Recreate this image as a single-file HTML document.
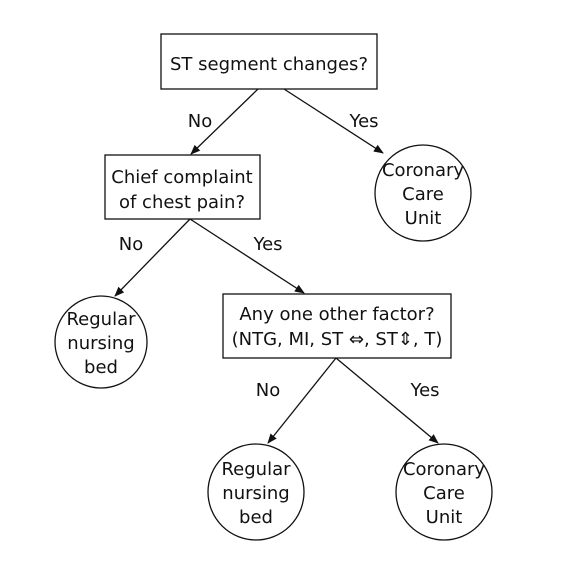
<!DOCTYPE html>
<html><head><style>
body{margin:0;background:#fff}
svg text{font-family:"DejaVu Sans","Liberation Sans",sans-serif;font-size:18px;fill:#111}
</style></head><body>
<svg width="575" height="559" viewBox="0 0 575 559" xmlns="http://www.w3.org/2000/svg">
<defs><marker id="a" markerWidth="10" markerHeight="10" refX="9" refY="5" orient="auto" markerUnits="userSpaceOnUse">
<path d="M0,1 L10,5 L0,9 Z" fill="#111"/></marker></defs>
<g fill="none" stroke="#111" stroke-width="1.3">
<rect x="161" y="34" width="216" height="55"/>
<rect x="105" y="155" width="155" height="64"/>
<rect x="223" y="294" width="228" height="64"/>
<circle cx="423" cy="193" r="48"/>
<circle cx="101" cy="342" r="46"/>
<circle cx="256" cy="492" r="48"/>
<circle cx="444" cy="492" r="48"/>
<line x1="258" y1="89" x2="191" y2="154" marker-end="url(#a)"/>
<line x1="284" y1="89" x2="383" y2="153" marker-end="url(#a)"/>
<line x1="190" y1="219" x2="115" y2="296" marker-end="url(#a)"/>
<line x1="190" y1="219" x2="304" y2="293" marker-end="url(#a)"/>
<line x1="336" y1="358" x2="268" y2="443" marker-end="url(#a)"/>
<line x1="336" y1="358" x2="438" y2="443" marker-end="url(#a)"/>
</g>
<g text-anchor="middle">
<text x="269" y="70">ST segment changes?</text>
<text x="182" y="183">Chief complaint</text>
<text x="182" y="208">of chest pain?</text>
<text x="337" y="320">Any one other factor?</text>
<text x="337" y="345">(NTG, MI, ST ⇔, ST⇕, T)</text>
<text x="423" y="176">Coronary</text><text x="423" y="200">Care</text><text x="423" y="224">Unit</text>
<text x="101" y="325">Regular</text><text x="101" y="349">nursing</text><text x="101" y="373">bed</text>
<text x="256" y="475">Regular</text><text x="256" y="499">nursing</text><text x="256" y="523">bed</text>
<text x="444" y="475">Coronary</text><text x="444" y="499">Care</text><text x="444" y="523">Unit</text>
<text x="200" y="127">No</text><text x="364" y="127">Yes</text>
<text x="131" y="250">No</text><text x="268" y="250">Yes</text>
<text x="268" y="396">No</text><text x="425" y="396">Yes</text>
</g>
</svg>
</body></html>
